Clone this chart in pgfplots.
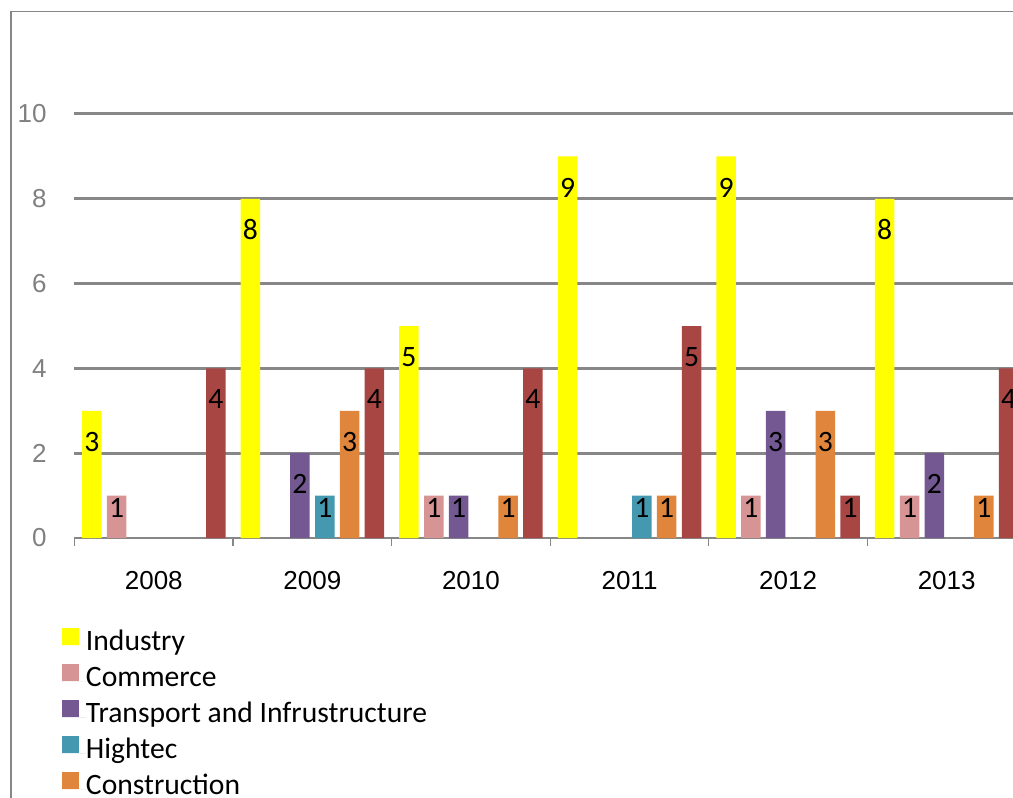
\documentclass[border=0pt]{standalone}
\usepackage{fontspec}
\setmainfont{Carlito}
\newfontfamily\arialfont{Liberation Sans}
\usepackage{pgfplots}
\pgfplotsset{compat=1.18}
\definecolor{cInd}{HTML}{FFFF00}
\definecolor{cCom}{HTML}{D69494}
\definecolor{cTra}{HTML}{735892}
\definecolor{cHig}{HTML}{4498B0}
\definecolor{cCon}{HTML}{E0853C}
\definecolor{cRed}{HTML}{A84644}
\definecolor{gridGray}{HTML}{878787}
\definecolor{tickGray}{HTML}{808080}
\pgfplotsset{
  mybar/.style={ybar, bar width=9.75pt, bar shift=#1, draw=none,
    nodes near coords,
    nodes near coords style={font=\fontsize{14.8}{14.8}\selectfont, text=black, anchor=center, inner sep=0pt,
      xshift=#1, yshift={ifthenelse(\rawy<1.5,-6.25,-15.5)}},
    legend image code/.code={\fill (0pt,0pt) rectangle (8.5pt,8.5pt); \path (0pt,0pt) -- (12pt,0pt);}}
}
\begin{document}
\begin{tikzpicture}
\useasboundingbox (0pt,0pt) rectangle (506.5pt,399pt);
\clip (0pt,0pt) rectangle (506.5pt,399pt);
\draw[color=gridGray, line width=0.65pt] (5.5pt,-10pt) -- (5.5pt,393.25pt) -- (520pt,393.25pt);
\begin{axis}[
  at={(37.25pt,130pt)}, anchor=south west, scale only axis,
  width=475.75pt, height=212pt,
  xmin=-0.5, xmax=5.5, ymin=0, ymax=10,
  axis lines*=left,
  x axis line style={gridGray, line width=0.65pt, -},
  y axis line style={draw=none},
  xtick={0,...,5}, xticklabels={2008,2009,2010,2011,2012,2013},
  minor xtick={-0.5,0.5,...,5.5},
  tick align=outside, major tick length=0pt, minor tick length=4pt,
  minor tick style={gridGray, line width=0.65pt},
  ytick={0,2,...,10},
  extra y ticks={2,4,...,10}, extra y tick labels={},
  extra y tick style={grid=major},
  major grid style={gridGray, line width=1.5pt},
  /pgf/number format/assume math mode=true,
  yticklabel style={font=\arialfont\fontsize{13}{13}\selectfont, text=tickGray, anchor=east, inner sep=0pt, xshift=-13.75pt},
  xticklabel style={font=\arialfont\fontsize{13}{13}\selectfont, text=black, anchor=north, inner sep=0pt, yshift=-16.5pt},
  visualization depends on=rawy \as \rawy,
  legend cell align=left,
  legend style={at={(-0.01314,-0.2123)}, anchor=north west, draw=none, fill=none, inner sep=0pt, outer sep=0pt,
    row sep=4.5pt, font=\fontsize{14.8}{17}\selectfont,
    nodes={inner sep=0pt, text height=0.75em, text depth=0.25em}},
]
\addplot[mybar=-31pt, fill=cInd] coordinates {(0,3) (1,8) (2,5) (3,9) (4,9) (5,8)};
\addlegendentry{Industry}
\addplot[mybar=-18.6pt, fill=cCom] coordinates {(0,1) (2,1) (4,1) (5,1)};
\addlegendentry{Commerce}
\addplot[mybar=-6.2pt, fill=cTra] coordinates {(1,2) (2,1) (4,3) (5,2)};
\addlegendentry{Transport and Infrustructure}
\addplot[mybar=6.2pt, fill=cHig] coordinates {(1,1) (3,1)};
\addlegendentry{Hightec}
\addplot[mybar=18.6pt, fill=cCon] coordinates {(1,3) (2,1) (3,1) (4,3) (5,1)};
\addlegendentry{Construction}
\addplot[mybar=31pt, fill=cRed] coordinates {(0,4) (1,4) (2,4) (3,5) (4,1) (5,4)};
\addlegendentry{Services}
\end{axis}
\end{tikzpicture}
\end{document}
